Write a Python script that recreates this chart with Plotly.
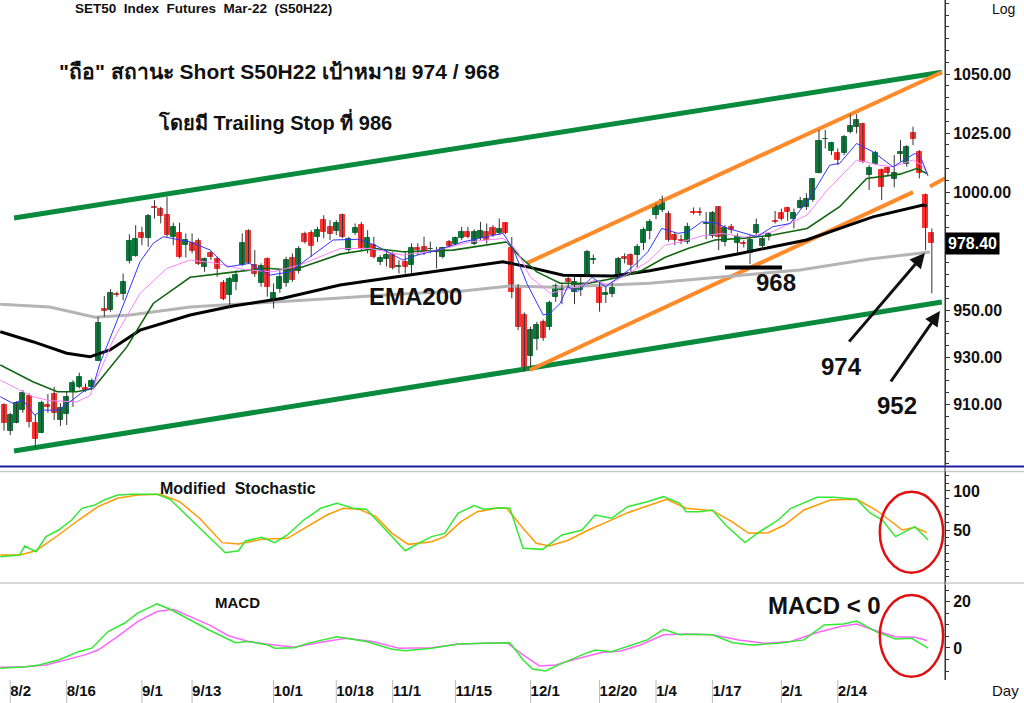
import plotly.graph_objects as go
from plotly.subplots import make_subplots

FONT = "Liberation Sans, Arial, sans-serif"

# daily bars 30 Jul 2021 .. 8 Mar 2022, x = trading-day number
bar_open = [909.7, 898.9, 902.3, 907.6, 913.7, 902.0, 898.0, 909.7, 914.4, 903.4,
            905.8, 915.4, 917.5, 917.0, 917.2, 928.5, 950.3, 950.0, 956.8, 956.8,
            970.8, 972.9, 982.8, 980.7, 993.8, 992.7, 990.3, 981.1, 982.8, 977.5,
            978.5, 979.2, 968.1, 974.3, 971.5, 961.6, 956.4, 962.0, 969.1, 983.6,
            969.1, 961.3, 971.6, 954.2, 958.8, 961.3, 971.9, 966.7, 982.1, 982.5,
            980.8, 988.1, 985.3, 983.6, 990.5, 975.4, 982.8, 986.0, 976.1, 977.5,
            970.5, 971.5, 973.3, 968.1, 970.5, 969.1, 976.5, 976.8, 975.7, 974.7,
            972.6, 979.0, 978.2, 980.7, 982.9, 978.2, 980.4, 983.3, 984.6, 982.5,
            986.7, 976.5, 959.9, 947.9, 930.5, 937.6, 945.0, 942.9, 955.7, 958.5,
            963.3, 957.8, 958.5, 964.1, 971.4, 960.6, 956.4, 957.0, 964.1, 972.3,
            973.3, 973.3, 978.3, 983.6, 990.3, 992.6, 990.9, 981.8, 979.9, 979.0,
            991.4, 991.4, 986.3, 981.4, 993.8, 979.0, 985.0, 978.5, 978.5, 974.0,
            982.5, 977.3, 980.8, 987.7, 991.0, 993.1, 988.4, 993.4, 993.5, 996.6,
            1008.2, 1022.3, 1017.5, 1016.7, 1016.7, 1025.6, 1027.7, 1028.8, 1007.2, 1012.1,
            1009.3, 1010.0, 1005.4, 1016.1, 1011.9, 1024.9, 1017.1, 998.7, 982.5]
bar_high = [910.5, 906.5, 911.2, 916.1, 914.7, 905.9, 911.6, 914.4, 917.5, 910.5,
            915.4, 920.3, 923.5, 918.9, 921.0, 947.2, 955.9, 958.9, 957.8, 965.5,
            982.1, 986.0, 985.3, 990.7, 996.6, 993.8, 998.0, 987.0, 987.0, 982.5,
            982.5, 980.4, 972.3, 975.1, 972.6, 962.7, 964.1, 966.9, 982.5, 984.2,
            975.4, 969.8, 972.3, 961.3, 967.2, 972.6, 974.0, 977.1, 983.2, 983.9,
            985.3, 990.2, 988.1, 988.1, 990.9, 981.1, 986.7, 987.4, 983.9, 981.1,
            973.3, 975.4, 974.7, 971.2, 974.7, 978.3, 978.3, 981.1, 979.0, 976.8,
            976.8, 979.7, 981.1, 985.3, 985.3, 984.2, 987.4, 986.7, 986.0, 988.8,
            987.0, 981.0, 961.0, 949.0, 943.0, 945.0, 946.0, 954.0, 961.3, 961.0,
            964.1, 964.1, 964.0, 975.5, 973.5, 962.0, 960.0, 962.0, 972.5, 974.0,
            974.0, 978.0, 985.0, 988.5, 995.0, 998.5, 992.0, 983.0, 982.0, 987.0,
            993.5, 993.5, 991.5, 992.0, 994.0, 986.0, 986.5, 982.5, 979.5, 981.8,
            988.8, 981.0, 983.0, 992.0, 993.0, 993.8, 993.0, 998.0, 999.5, 1005.8,
            1026.3, 1026.3, 1021.3, 1018.5, 1024.2, 1033.0, 1033.0, 1029.4, 1011.5, 1017.5,
            1010.0, 1010.7, 1015.7, 1022.0, 1019.9, 1027.7, 1017.8, 999.4, 984.6]
bar_low = [898.9, 897.0, 902.0, 906.5, 900.3, 891.4, 897.8, 906.5, 903.4, 900.9,
           901.3, 909.0, 916.8, 915.4, 916.1, 928.5, 947.2, 949.3, 955.6, 954.2,
           969.8, 972.6, 977.5, 976.8, 988.8, 986.7, 981.1, 977.5, 971.9, 972.3,
           974.0, 969.1, 966.2, 971.2, 964.1, 954.2, 950.7, 958.5, 968.7, 969.5,
           964.1, 959.9, 955.7, 950.7, 957.3, 959.9, 962.0, 965.5, 978.2, 972.6,
           978.9, 980.4, 979.7, 981.8, 980.4, 974.7, 981.8, 975.4, 974.0, 971.9,
           969.1, 968.4, 967.2, 965.5, 965.5, 965.5, 973.3, 973.3, 974.0, 967.7,
           971.9, 976.5, 977.5, 979.7, 980.4, 977.5, 979.7, 978.2, 981.1, 981.8,
           982.2, 955.0, 941.5, 924.0, 926.0, 933.0, 937.0, 941.5, 953.5, 952.5,
           959.5, 952.5, 956.0, 964.0, 969.5, 949.3, 953.0, 955.5, 963.5, 969.8,
           965.0, 968.0, 975.5, 980.0, 988.5, 991.5, 979.0, 977.5, 978.0, 978.0,
           990.5, 990.0, 980.0, 980.5, 975.4, 977.0, 982.5, 974.0, 976.5, 969.5,
           981.0, 975.5, 979.5, 986.7, 988.0, 987.8, 984.6, 993.0, 992.4, 995.9,
           1007.9, 1018.5, 1015.7, 1011.4, 1015.7, 1024.9, 1024.9, 1012.2, 1000.9, 1011.5,
           996.6, 1007.2, 1002.0, 1012.9, 1010.7, 1019.9, 1005.8, 975.4, 957.1]
bar_close = [902.0, 905.5, 910.5, 915.0, 902.4, 895.2, 910.5, 908.8, 906.5, 908.3,
             913.3, 919.3, 921.8, 916.1, 920.0, 944.4, 949.7, 957.1, 956.2, 962.0,
             979.2, 980.0, 980.7, 989.8, 993.4, 990.0, 981.8, 985.0, 972.6, 979.6,
             975.0, 969.5, 971.5, 972.3, 967.2, 954.8, 963.0, 964.8, 978.5, 969.8,
             965.5, 968.7, 959.9, 957.3, 964.1, 971.2, 962.7, 976.0, 978.9, 977.1,
             983.9, 982.9, 982.2, 986.7, 981.1, 980.0, 984.6, 976.1, 980.4, 972.6,
             971.9, 973.3, 967.7, 968.6, 968.4, 976.1, 975.4, 974.7, 976.0, 975.0,
             976.1, 977.1, 980.4, 983.2, 980.8, 983.2, 983.6, 979.7, 981.8, 984.2,
             982.8, 957.5, 942.9, 925.4, 941.5, 943.6, 938.0, 953.0, 960.2, 959.7,
             962.0, 962.0, 961.0, 974.5, 971.6, 952.8, 957.1, 959.5, 971.5, 971.5,
             969.1, 976.8, 983.9, 987.4, 994.1, 996.6, 979.9, 979.7, 979.2, 985.0,
             991.0, 991.0, 987.1, 991.0, 981.1, 984.9, 983.9, 981.0, 977.8, 979.7,
             986.0, 980.0, 982.2, 987.2, 988.8, 991.7, 991.2, 996.2, 996.9, 1005.4,
             1021.6, 1022.7, 1020.6, 1013.6, 1023.4, 1027.9, 1030.5, 1012.9, 1010.0, 1016.4,
             1002.0, 1007.9, 1008.2, 1016.8, 1019.2, 1022.3, 1008.2, 984.6, 978.4]
last_close = 978.40

# moving averages (bar number, value)
ema_fast = [(-0.6, 913.3), (1.4, 910.5), (3, 911.9), (4.9, 905.5), (6.1, 907.6), (8.6, 907.6),
            (10.2, 910.5), (12.6, 915.4), (14.2, 917.5), (15.3, 927.4), (18.5, 948.6),
            (21.7, 970.5), (23.8, 978.3), (25.4, 981.1), (28.1, 979.7), (29.7, 978.9),
            (32.9, 975.4), (35.6, 968.3), (39.2, 969.8), (42.4, 964.8), (45.6, 966.2),
            (48.8, 972.6), (52.5, 979.7), (56.5, 980.0), (59.2, 977.5), (63.6, 971.2),
            (65.9, 973.3), (69.1, 975.4), (73.2, 978.9), (77, 981.1), (79.6, 982.5),
            (81.2, 976.1), (83.4, 961.3), (86, 947.9), (87.1, 948.6), (88.7, 952.8),
            (89.9, 959.9), (91.5, 957.8), (93.8, 963.9), (95.9, 959.9), (98.6, 964.8),
            (100.6, 969.1), (102.7, 974.7), (104.9, 984.6), (107.5, 982.5), (109.1, 983.2),
            (111.3, 987.4), (113.4, 987.0), (115.5, 984.6), (118.2, 982.5), (120.1, 981.1),
            (122.6, 985.3), (125.4, 986.7), (129, 999.4), (131.7, 1011.4), (133.3, 1012.2),
            (136, 1020.6), (138.6, 1017.1), (141.8, 1010.7), (144, 1014.3), (145.3, 1016.4),
            (146.4, 1013.6), (147.4, 1006.8)]
ema_mid = [(-0.6, 920.3), (4.6, 913.3), (7.3, 911.6), (11.6, 911.1), (13.7, 913.7), (17.4, 937.3),
           (21.7, 957.1), (26, 967.7), (29.7, 971.2), (34, 969.8), (38.1, 967.2), (42.9, 966.2),
           (47.2, 969.1), (53.6, 976.1), (58.4, 976.1), (63.6, 973.3), (69.1, 975.4),
           (74.3, 978.9), (79.6, 980.4), (81.8, 975.4), (83.9, 964.1), (87.1, 957.1),
           (91.1, 959.6), (94.3, 962.7), (96.3, 960.6), (99.5, 965.3), (102.7, 970.5),
           (105.4, 977.5), (108.1, 978.9), (111.3, 981.4), (114.5, 982.5), (118.2, 980.9),
           (122.6, 983.2), (128.1, 990.3), (131.3, 1000.8), (136, 1013.6), (139.7, 1011.4),
           (141.8, 1010.7), (145, 1013.6), (146.4, 1011.4), (147.4, 1007.6)]
ema_slow = [(-0.6, 926.7), (4.6, 919.6), (8.5, 915.4), (11.6, 915.4), (14.2, 916.8), (19.6, 934.4),
            (23.8, 952.8), (29.7, 963.9), (36.5, 966.1), (42, 967.7), (46.1, 966.9), (53.6, 973.7),
            (59.2, 976.1), (63.6, 974.7), (71.6, 975.4), (80.2, 978.9), (82.3, 972.6), (85, 966.2),
            (88.7, 961.4), (93.1, 961.3), (98.6, 964.1), (101.8, 966.9), (105.4, 972.3),
            (109.1, 976.1), (113.4, 979.7), (118.2, 980.5), (122.6, 981.8), (128.1, 984.6),
            (133.3, 993.8), (137.6, 1005.8), (142.9, 1007.6), (145.6, 1010.0), (147.2, 1007.9)]
ema_long = [(-0.6, 940.8), (4.6, 936.6), (10, 931.7), (13.7, 930.2), (16.9, 933.1), (21.7, 941.5),
            (29.7, 947.9), (36.5, 951.7), (44.5, 955.0), (53.6, 960.6), (62.7, 964.1), (73.2, 968.1),
            (79.6, 970.5), (83.9, 968.1), (89.2, 964.8), (97.1, 964.4), (103, 966.7), (117.4, 974.0),
            (128, 979.7), (138.6, 989.5), (146.6, 994.5), (147.2, 994.1)]
ema200 = [(-0.6, 952.5), (7.3, 951.3), (14.5, 947.0), (20.1, 947.9), (29.7, 951.3), (37.6, 952.5),
          (44, 953.4), (53.6, 955.1), (63.2, 956.8), (73.2, 958.1), (80.7, 960.2), (87.9, 959.7),
          (103, 961.4), (118.2, 964.8), (127, 967.0), (138.1, 971.6), (147.7, 974.6)]

# trend channels (bar number, price) at both ends
chan_green_top = [(1.6, 989.0), (149.6, 1050.8)]
chan_green_bot = [(1.6, 890.3), (149.6, 953.4)]
chan_orange_top = [(83.4, 969.9), (149.6, 1050.8)]
chan_orange_bot = [(83.9, 924.6), (145.0, 1000.0), None, (147.7, 1002.4), (150.1, 1005.9)]
support_968 = [(115.0, 968.0), (124.1, 968.0)]

stoch_k = [(-0.6, 15.8), (2.5, 18.0), (3.3, 29.5), (5.1, 22.2), (6.7, 41.5), (8.7, 50), (10.8, 62.8),
           (12.4, 77.8), (14.5, 82.1), (16.0, 88.5), (18.1, 94.9), (20.2, 95.7), (24.4, 95.7),
           (26.5, 89.3), (29.6, 65.0), (32.7, 41.5), (35.3, 20.9), (37.4, 23.5), (38.5, 35.9),
           (41.1, 40.6), (43.2, 33.8), (45.2, 43.6), (47.8, 62.8), (50.5, 77.8), (53.1, 84.2),
           (55.7, 77.8), (57.8, 76.5), (60.9, 50), (64.0, 23.5), (66.1, 32.9), (68.2, 41.5),
           (70.3, 45.7), (72.4, 71.4), (75.0, 81.2), (76.5, 76.5), (79.1, 78.6), (80.7, 77.8),
           (82.8, 26.5), (85.9, 25.2), (89.0, 43.6), (92.2, 50), (94.3, 69.2), (96.9, 65.0),
           (99.5, 79.9), (102.6, 86.3), (105.2, 92.7), (107.8, 84.2), (108.8, 73.5), (110.9, 73.5),
           (113.0, 75.6), (115.1, 56.4), (118.2, 33.8), (120.3, 46.6), (123.5, 62.8), (125.5, 77.8),
           (129.7, 91.9), (132.3, 91.9), (136.0, 89.3), (138.1, 72.2), (140.1, 62.8), (142.2, 41.5),
           (145.3, 54.3), (147.4, 37.2)]
stoch_d = [(-0.6, 18.0), (2.5, 18.0), (5.1, 23.5), (8.7, 43.6), (11.9, 62.8), (15.0, 79.9), (18.1, 90.6),
           (21.3, 94.9), (24.9, 95.7), (28.0, 86.3), (31.2, 65.0), (34.8, 33.8), (37.4, 32.1),
           (41.1, 38.0), (45.2, 39.3), (48.4, 54.3), (51.5, 69.2), (54.1, 77.8), (56.7, 76.5),
           (59.3, 67.1), (61.9, 45.7), (64.5, 31.6), (68.2, 35.0), (70.3, 41.5), (72.9, 60.7),
           (75.5, 73.5), (78.6, 77.8), (80.2, 77.8), (82.8, 52.1), (84.9, 32.9), (87.0, 29.5),
           (90.1, 37.2), (93.2, 50), (96.3, 60.7), (99.5, 72.2), (102.6, 80.8), (105.7, 89.3),
           (108.8, 77.8), (113.0, 74.8), (116.1, 60.7), (118.8, 45.7), (121.9, 46.6), (124.5, 56.4),
           (127.6, 75.6), (131.8, 88.5), (136.0, 89.3), (139.1, 75.6), (141.2, 62.8), (143.3, 50),
           (145.3, 53.4), (147.2, 46.6)]

macd_line = [(-0.6, -8.8), (3.5, -8.1), (5.6, -7.4), (8.7, -5.2), (11.9, -1.6), (14.0, -0.1), (16.6, 7.1),
             (19.2, 10.7), (21.3, 15.1), (24.4, 19.1), (26.5, 16.8), (29.6, 12.2), (32.7, 7.8),
             (36.9, 2.3), (39.0, 2.8), (42.1, 1.3), (43.2, -0.1), (46.3, 0.1), (48.4, 2.0), (53.1, 4.9),
             (57.8, 2.8), (61.9, -0.6), (64.0, -1.2), (68.2, -0.1), (72.4, 1.7), (76.5, 2.0), (80.7, 2.3),
             (82.8, -5.2), (84.3, -9.1), (86.4, -10.0), (89.0, -6.7), (92.2, -3.0), (94.3, -0.9),
             (96.9, -1.6), (99.5, 0.6), (102.6, 3.5), (105.2, 8.1), (107.8, 5.7), (109.9, 5.9),
             (113.0, 5.7), (116.2, 2.3), (119.3, 1.3), (123.5, 2.0), (127.6, 3.5), (130.8, 10.0),
             (133.9, 10.4), (136.0, 11.7), (139.1, 7.1), (142.2, 3.9), (144.8, 4.2), (147.4, -0.1)]
macd_signal = [(-0.6, -8.4), (3.5, -8.1), (6.7, -7.4), (9.8, -5.2), (12.9, -3.0), (15.0, -0.9), (18.1, 4.9),
               (21.3, 11.4), (24.4, 15.8), (27.0, 16.8), (29.6, 13.6), (32.7, 10.0), (35.9, 5.2),
               (39.0, 2.8), (42.1, 1.6), (46.3, 0.3), (50.5, 2.5), (54.6, 4.2), (58.8, 2.8), (63.0, -0.1),
               (68.2, 0.1), (72.4, 1.6), (76.5, 2.0), (80.2, 2.3), (82.8, -3.0), (85.4, -7.8), (88.0, -7.4),
               (91.1, -4.9), (95.3, -2.0), (98.4, -1.3), (101.5, 1.3), (105.2, 5.7), (108.8, 6.1),
               (113.0, 5.7), (117.2, 3.5), (121.4, 2.0), (125.5, 2.8), (129.7, 6.7), (133.4, 9.3),
               (136.0, 10.4), (139.1, 7.5), (142.2, 4.9), (145.3, 4.6), (147.2, 3.2)]

date_ticks = [1, 10, 22, 30, 43, 53, 62, 72, 84, 95, 104, 113, 124, 133]
date_labels = ["8/2", "8/16", "9/1", "9/13", "10/1", "10/18", "11/1", "11/15",
               "12/1", "12/20", "1/4", "1/17", "2/1", "2/14"]
price_ticks = [910, 930, 950, 1000, 1025, 1050]


def xs(pts):
    return [p[0] if p else None for p in pts]


def ys(pts):
    return [p[1] if p else None for p in pts]


# pixel helpers for text placement (plot area is 945 x 680 px)
def px(x):
    return x / 945


def py(y):
    return (680 - y) / 680


GREEN = "#0b7a3b"
RED = "#ff3030"

fig = make_subplots(rows=3, cols=1, shared_xaxes=True)

idx = list(range(len(bar_open)))
wx, wy = [], []
for i in idx:
    wx += [i, i, None]
    wy += [bar_low[i], bar_high[i], None]

for pts in (chan_green_top, chan_green_bot):
    fig.add_trace(go.Scatter(x=xs(pts), y=ys(pts), mode="lines",
                             line=dict(color="#0a8a3c", width=5)), row=1, col=1)
for pts in (chan_orange_top, chan_orange_bot):
    fig.add_trace(go.Scatter(x=xs(pts), y=ys(pts), mode="lines",
                             line=dict(color="#ff8a2a", width=4)), row=1, col=1)

fig.add_trace(go.Scatter(x=xs(ema200), y=ys(ema200), mode="lines",
                         line=dict(color="#b4b4b4", width=3)), row=1, col=1)
fig.add_trace(go.Scatter(x=xs(ema_long), y=ys(ema_long), mode="lines",
                         line=dict(color="#000000", width=3)), row=1, col=1)

fig.add_trace(go.Scatter(x=wx, y=wy, mode="lines", line=dict(color="#333333", width=1)), row=1, col=1)
body_base = [min(o, c) for o, c in zip(bar_open, bar_close)]
body_len = [abs(c - o) for o, c in zip(bar_open, bar_close)]
body_col = [GREEN if c >= o else RED for o, c in zip(bar_open, bar_close)]
fig.add_trace(go.Bar(x=idx, y=body_len, base=body_base, width=0.8,
                     marker=dict(color=body_col, line=dict(color=body_col, width=1))), row=1, col=1)

fig.add_trace(go.Scatter(x=xs(ema_slow), y=ys(ema_slow), mode="lines",
                         line=dict(color="#116611", width=1.6)), row=1, col=1)
fig.add_trace(go.Scatter(x=xs(ema_mid), y=ys(ema_mid), mode="lines",
                         line=dict(color="#ff80ff", width=1)), row=1, col=1)
fig.add_trace(go.Scatter(x=xs(ema_fast), y=ys(ema_fast), mode="lines",
                         line=dict(color="#3333ff", width=1)), row=1, col=1)
fig.add_trace(go.Scatter(x=xs(support_968), y=ys(support_968), mode="lines",
                         line=dict(color="#000000", width=4)), row=1, col=1)

fig.add_trace(go.Scatter(x=xs(stoch_d), y=ys(stoch_d), mode="lines",
                         line=dict(color="#ff9900", width=1.5)), row=2, col=1)
fig.add_trace(go.Scatter(x=xs(stoch_k), y=ys(stoch_k), mode="lines",
                         line=dict(color="#33e833", width=1.5)), row=2, col=1)
fig.add_trace(go.Scatter(x=xs(macd_signal), y=ys(macd_signal), mode="lines",
                         line=dict(color="#ff66ff", width=1.5)), row=3, col=1)
fig.add_trace(go.Scatter(x=xs(macd_line), y=ys(macd_line), mode="lines",
                         line=dict(color="#33e833", width=1.5)), row=3, col=1)

axis_common = dict(side="right", showline=True, linecolor="#333", linewidth=1, ticks="outside",
                   ticklen=4, tickcolor="#333", showgrid=False, zeroline=False,
                   tickfont=dict(family=FONT, size=16, color="#111", weight="bold"))
fig.update_layout(
    width=1024, height=703, margin=dict(l=0, r=79, t=0, b=23),
    paper_bgcolor="white", plot_bgcolor="white", showlegend=False, bargap=0,
    yaxis=dict(domain=[0.316, 1], range=[884.3, 1081.4], tickvals=price_ticks,
               ticktext=["%.2f" % v for v in price_ticks],
               minor=dict(ticks="outside", ticklen=3, tickcolor="#333", tick0=0, dtick=5), **axis_common),
    yaxis2=dict(domain=[0.144, 0.306], range=[-16.7, 124.4], tickvals=[50, 100],
                minor=dict(ticks="outside", ticklen=3, tickcolor="#333", tick0=0, dtick=10), **axis_common),
    yaxis3=dict(domain=[0, 0.140], range=[-13.9, 27.4], tickvals=[0, 20],
                minor=dict(ticks="outside", ticklen=3, tickcolor="#333", tick0=0, dtick=5), **axis_common),
)
fig.update_xaxes(range=[-0.64, 150.1], showgrid=False, zeroline=False, showline=False, showticklabels=False)
fig.update_xaxes(row=3, col=1, showticklabels=True, tickvals=date_ticks, ticktext=date_labels,
                 ticks="", ticklabelposition="outside right",
                 tickfont=dict(family=FONT, size=15, color="#111", weight="bold"))

# panel separators and bottom date dividers
fig.add_shape(type="line", xref="paper", yref="paper", x0=0, x1=1.0836, y0=py(466.5), y1=py(466.5),
              line=dict(color="#1c1ca0", width=2))
fig.add_shape(type="line", xref="paper", yref="paper", x0=0, x1=1.0836, y0=py(471.5), y1=py(471.5),
              line=dict(color="#c8c8c8", width=1.5))
fig.add_shape(type="line", xref="paper", yref="paper", x0=0, x1=1.0836, y0=py(583), y1=py(583),
              line=dict(color="#c8c8c8", width=1.5))
fig.add_shape(type="line", xref="paper", yref="paper", x0=1, x1=1, y0=0, y1=1,
              line=dict(color="#333", width=1))
for t in date_ticks:
    fig.add_shape(type="line", xref="x3", yref="paper", x0=t, x1=t, y0=0, y1=-0.034,
                  line=dict(color="#bbbbbb", width=1))

fig.add_shape(type="circle", xref="x2", yref="y2", x0=139.7, x1=149.8, y0=-4.7, y1=99,
              line=dict(color="#e01010", width=2.5))
fig.add_shape(type="circle", xref="x3", yref="y3", x0=139.7, x1=149.8, y0=-12.5, y1=23,
              line=dict(color="#e01010", width=2.5))


def label(text, x, y, size, weight="bold", anchor="center"):
    fig.add_annotation(text=text, x=px(x), y=py(y), xref="paper", yref="paper", showarrow=False,
                       xanchor=anchor, yanchor="middle",
                       font=dict(family=FONT, size=size, color="#111", weight=weight))


label("SET50\u00a0\u00a0Index\u00a0\u00a0Futures\u00a0\u00a0Mar-22\u00a0\u00a0(S50H22)", 73, 9, 13.5, anchor="left")
label("Log", 990, 9, 14, weight="normal", anchor="left")
label('"ถือ" สถานะ Short S50H22 เป้าหมาย 974 / 968', 279, 72, 21)
label("โดยมี Trailing Stop ที่ 986", 275, 121, 20)
label("EMA200", 415, 296, 24)
label("968", 776, 282, 24)
label("974", 841, 366, 24)
label("952", 897, 405, 24)
label("Modified\u00a0\u00a0Stochastic", 238, 488, 16)
label("MACD", 237, 602, 15)
label("MACD < 0", 824, 605, 24)
label("Day", 990, 690, 15, weight="normal", anchor="left")

fig.add_annotation(x=146.9, y=974.2, ax=134.6, ay=936.0, xref="x", yref="y", axref="x", ayref="y",
                   text="", showarrow=True, arrowhead=2, arrowsize=1, arrowwidth=3, arrowcolor="#111")
fig.add_annotation(x=149.3, y=949.6, ax=141.3, ay=919.1, xref="x", yref="y", axref="x", ayref="y",
                   text="", showarrow=True, arrowhead=2, arrowsize=1, arrowwidth=3, arrowcolor="#111")

fig.add_annotation(text="%.2f" % last_close, x=1.0, y=last_close, xref="paper", yref="y",
                   xanchor="left", yanchor="middle", showarrow=False, bgcolor="#000", borderpad=2,
                   font=dict(family=FONT, size=16, color="white", weight="bold"))

# the page body has a default margin; drop it so the chart sits at the window's corner
fig.write_html("out.html", config={"displayModeBar": False},
               post_script="document.body.style.margin='0';")
